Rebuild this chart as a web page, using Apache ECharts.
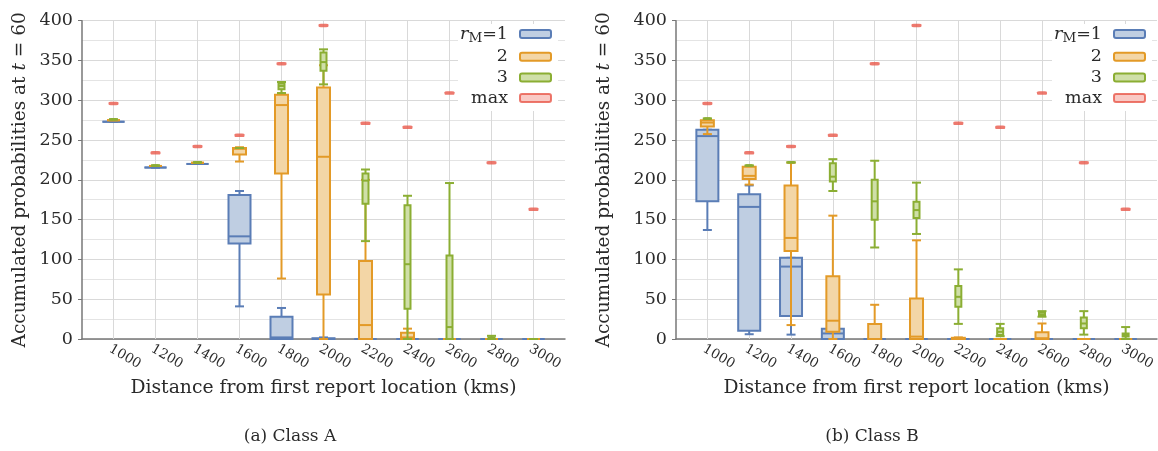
<!DOCTYPE html>
<html>
<head>
<meta charset="utf-8">
<script src="https://cdn.jsdelivr.net/npm/echarts@6/dist/echarts.min.js"></script>
<style>
  html, body { margin: 0; padding: 0; background: #fff; }
  #chart { width: 1158px; height: 451px; }
</style>
</head>
<body>
<div id="chart"></div>
<script>
// distances on the x axis (kms)
const distances = [1000, 1200, 1400, 1600, 1800, 2000, 2200, 2400, 2600, 2800, 3000];

// highest accumulated probability at each distance
const maxValues = [296, 234, 242, 256, 346, 394, 271, 266, 309, 221.5, 163];

// box values per distance: [min, q1, median, q3, max]
const classA_r1 = [[273, 273, 273, 273, 273], [215.5, 215.5, 215.5, 215.5, 215.5], [220, 220, 220, 220, 220],
  [41, 120, 129, 181, 186], [0, 0, 2, 28, 39], [0, 0, 0, 1, 2], [0, 0, 0, 0, 0], [0, 0, 0, 0, 0],
  [0, 0, 0, 0, 0], [0, 0, 0, 0, 0], [0, 0, 0, 0, 0]];
const classA_r2 = [[275, 275, 275, 275, 275], [217.5, 217.5, 217.5, 217.5, 217.5], [221.5, 221.5, 221.5, 221.5, 221.5],
  [223, 232, 239, 240, 241], [76, 208, 294, 307, 309], [0, 56, 229, 316, 344], [0, 0, 17.5, 98, 200],
  [0, 0, 2, 8, 13], [0, 0, 0, 0, 0], [0, 0, 0, 0, 0], [0, 0, 0, 0, 0]];
const classA_r3 = [[276, 276, 276, 276, 276], [218, 218, 218, 218, 218], [222, 222, 222, 222, 222],
  [240, 240, 240, 240, 240], [309, 314, 318, 321, 323], [320, 337, 348, 360, 364], [123, 170, 199, 208, 213],
  [0, 38, 94, 168, 180], [0, 0, 15, 105, 196], [0, 0, 1, 2, 4], [0, 0, 0, 0, 0]];

const classB_r1 = [[137, 173, 255, 263, 263], [6, 10.5, 166, 182, 193], [5.5, 29, 91, 102, 102],
  [0, 0, 7, 13, 13], [0, 0, 0, 0, 0], [0, 0, 0, 0, 0], [0, 0, 0, 0, 0], [0, 0, 0, 0, 0],
  [0, 0, 0, 0, 0], [0, 0, 0, 0, 0], [0, 0, 0, 0, 0]];
const classB_r2 = [[257.5, 267, 272, 275, 275], [194, 201, 205, 216.5, 216.5], [17.5, 110.5, 127, 193, 221.5],
  [0, 9, 23, 79, 155], [0, 0, 0, 19, 43], [0, 0, 3, 51, 124], [0, 0, 0, 1.5, 2], [0, 0, 0, 0, 0],
  [0, 0, 1, 8.5, 19.5], [0, 0, 0, 0, 0], [0, 0, 0, 0, 0]];
const classB_r3 = [[277, 277, 277, 277, 277], [218, 218, 218, 218, 218], [222, 222, 222, 222, 222],
  [186, 198, 204, 221, 226], [115, 150, 173, 200, 224], [132, 152, 162, 172.5, 196.5], [19, 40.5, 53, 66.5, 87.5],
  [3.5, 5, 9, 13.5, 19], [28, 29, 31, 33.5, 35], [5.5, 13.5, 19.5, 27, 35], [0, 3, 5, 7, 15]];

const SERIF = '"DejaVu Serif", "Liberation Serif", serif';
const TXT = '#2a2a2a';

const styles = {
  rM1: { stroke: '#5a7db6', fill: '#bfcee2', width: 22 },
  rM2: { stroke: '#e39a27', fill: '#f3d6a6', width: 13 },
  rM3: { stroke: '#8bae33', fill: '#cfdfa8', width: 6 },
  max: { stroke: '#e8574a', fill: '#f7bdb6' }
};

function boxRenderer(st) {
  return function (params, api) {
    const x = api.value(0);
    const pts = [1, 2, 3, 4, 5].map(function (k) { return api.coord([x, api.value(k)]); });
    const cx = pts[0][0];
    const yMin = pts[0][1], yQ1 = pts[1][1], yMed = pts[2][1], yQ3 = pts[3][1], yMax = pts[4][1];
    const hw = st.width / 2, cw = 4.5;
    const ls = { stroke: st.stroke, lineWidth: 2, fill: null };
    return {
      type: 'group',
      children: [
        { type: 'line', shape: { x1: cx, y1: yMin, x2: cx, y2: yQ1 }, style: ls },
        { type: 'line', shape: { x1: cx, y1: yQ3, x2: cx, y2: yMax }, style: ls },
        { type: 'line', shape: { x1: cx - cw, y1: yMin, x2: cx + cw, y2: yMin }, style: ls },
        { type: 'line', shape: { x1: cx - cw, y1: yMax, x2: cx + cw, y2: yMax }, style: ls },
        { type: 'rect', shape: { x: cx - hw, y: yQ3, width: st.width, height: Math.max(yQ1 - yQ3, 0) },
          style: { fill: st.fill, stroke: st.stroke, lineWidth: 2 } },
        { type: 'line', shape: { x1: cx - hw, y1: yMed, x2: cx + hw, y2: yMed }, style: ls }
      ]
    };
  };
}

function boxSeries(name, rows, axis, z) {
  return {
    name: name,
    type: 'custom',
    xAxisIndex: axis,
    yAxisIndex: axis,
    z: z,
    renderItem: boxRenderer(styles[name]),
    encode: { x: 0, y: [1, 2, 3, 4, 5] },
    data: distances.map(function (d, i) { return [d].concat(rows[i]); })
  };
}

function maxSeries(axis) {
  return {
    name: 'max',
    type: 'scatter',
    xAxisIndex: axis,
    yAxisIndex: axis,
    z: 6,
    symbol: 'roundRect',
    symbolSize: [10, 3.5],
    itemStyle: { color: styles.max.stroke },
    data: distances.map(function (d, i) { return [d, maxValues[i]]; })
  };
}

const plotTop = 20.7, plotH = 318.3, plotW = 483;

function xAxisFor(grid) {
  return {
    type: 'value', gridIndex: grid, min: 850, max: 3150,
    name: 'Distance from first report location (kms)',
    nameLocation: 'middle', nameGap: 40,
    nameTextStyle: { fontFamily: SERIF, fontSize: 18.8, color: TXT },
    axisLine: { show: true, lineStyle: { color: '#777', width: 1.5 } },
    axisTick: { show: true, inside: true, length: plotH, customValues: distances,
      lineStyle: { color: '#d9d9d9', width: 1 } },
    axisLabel: { customValues: distances, rotate: -30, margin: 3,
      align: 'left', verticalAlign: 'top',
      formatter: function (v) { return String(v); },
      fontFamily: SERIF, fontSize: 13.5, color: TXT },
    splitLine: { show: false }
  };
}

function yAxisFor(grid, gap) {
  return {
    type: 'value', gridIndex: grid, min: 0, max: 400, interval: 50,
    name: 'Accumulated probabilities at {t|t} = 60',
    nameLocation: 'middle', nameGap: gap,
    nameTextStyle: { fontFamily: SERIF, fontSize: 18.5, color: TXT,
      rich: { t: { fontFamily: SERIF, fontSize: 18.5, fontStyle: 'italic', color: TXT } } },
    axisLine: { show: true, lineStyle: { color: '#777', width: 1.5 } },
    axisTick: { show: true, length: 4, lineStyle: { color: '#777' } },
    axisLabel: { fontFamily: SERIF, fontSize: 17.5, color: TXT, margin: 9 },
    splitLine: { show: true, lineStyle: { color: '#d9d9d9' } },
    minorTick: { show: false, splitNumber: 2 },
    minorSplitLine: { show: true, lineStyle: { color: '#e4e4e4' } }
  };
}

const legendNames = ['rM1', 'rM2', 'rM3', 'max'];

function legendFor(right) {
  return {
    orient: 'vertical', align: 'right', right: right, top: 24,
    backgroundColor: '#fff', padding: [1, 6, 4, 2],
    itemWidth: 31, itemHeight: 8, itemGap: 2.7,
    data: legendNames.map(function (n) {
      return { name: n, icon: 'roundRect',
        itemStyle: { color: styles[n].fill, borderColor: styles[n].stroke, borderWidth: 2 } };
    }),
    formatter: function (n) {
      if (n === 'rM1') return '{r|r}{m|M}=1';
      if (n === 'rM2') return '2';
      if (n === 'rM3') return '3';
      return 'max';
    },
    textStyle: { fontFamily: SERIF, fontSize: 17.5, color: TXT, lineHeight: 18, padding: [0, 7, 0, 0],
      rich: {
        r: { fontFamily: SERIF, fontSize: 17.5, fontStyle: 'italic', color: TXT },
        m: { fontFamily: SERIF, fontSize: 13.5, color: TXT, padding: [8, 0, 0, 0] }
      } }
  };
}

const chart = echarts.init(document.getElementById('chart'));

chart.setOption({
  animation: false,
  backgroundColor: '#fff',
  grid: [
    { left: 82, top: plotTop, width: plotW, height: plotH },
    { left: 676, top: plotTop, width: plotW, height: plotH }
  ],
  xAxis: [xAxisFor(0), xAxisFor(1)],
  yAxis: [yAxisFor(0, 52), yAxisFor(1, 62)],
  legend: [legendFor(600), legendFor(6)],
  graphic: [
    { type: 'text', x: 290, y: 437, z: 10,
      style: { text: '(a) Class A', align: 'center', verticalAlign: 'middle',
        font: '17px ' + SERIF, fill: TXT } },
    { type: 'text', x: 872, y: 437, z: 10,
      style: { text: '(b) Class B', align: 'center', verticalAlign: 'middle',
        font: '17px ' + SERIF, fill: TXT } }
  ],
  series: [
    boxSeries('rM1', classA_r1, 0, 3),
    boxSeries('rM2', classA_r2, 0, 4),
    boxSeries('rM3', classA_r3, 0, 5),
    maxSeries(0),
    boxSeries('rM1', classB_r1, 1, 3),
    boxSeries('rM2', classB_r2, 1, 4),
    boxSeries('rM3', classB_r3, 1, 5),
    maxSeries(1)
  ]
});
</script>
</body>
</html>
